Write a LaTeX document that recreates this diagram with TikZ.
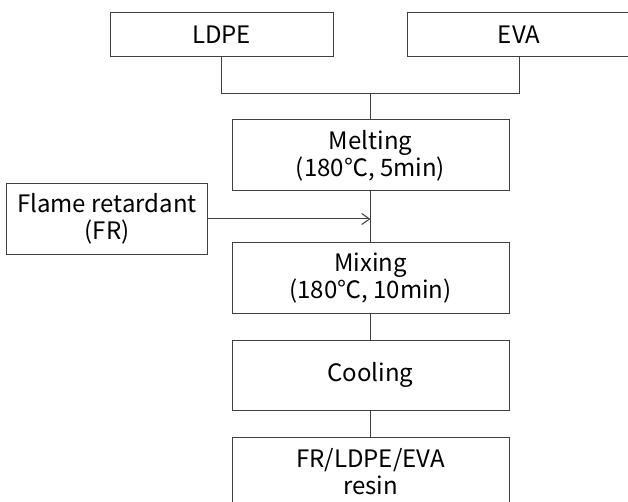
\documentclass[tikz,border=0pt]{standalone}
\usepackage{fontspec}
\setmainfont{Noto Sans CJK KR}
\usetikzlibrary{arrows.meta}
\begin{document}
\begin{tikzpicture}[x=1bp,y=-1bp,
  box/.style={draw=black!75,line width=1bp,inner sep=0pt,align=center,
    font=\fontsize{24bp}{27bp}\selectfont,text=black},
  link/.style={draw=black!75,line width=1bp}]
\clip (0,0) rectangle (628,502);
\node[box,minimum width=223bp,minimum height=44bp] (ldpe) at (221.5,35) {LDPE};
\node[box,minimum width=224bp,minimum height=44bp] (eva) at (519,35) {EVA};
\node[box,minimum width=277bp,minimum height=71bp] (melt) at (370.5,155.5) {Melting\\(180℃, 5min)};
\node[box,minimum width=200bp,minimum height=70bp] (fr) at (107,219) {Flame retardant\\(FR)};
\node[box,minimum width=277bp,minimum height=70bp] (mix) at (370.5,278) {Mixing\\(180℃, 10min)};
\node[box,minimum width=277bp,minimum height=70bp] (cool) at (370.5,375) {Cooling};
\node[box,minimum width=277bp,minimum height=70bp] (res) at (370.5,472) {FR/LDPE/EVA\\resin};
\coordinate (j) at (370.5,94);
\draw[link] (ldpe.south) |- (j);
\draw[link] (eva.south) |- (j);
\draw[link] (j) -- (melt.north);
\draw[link] (melt.south) -- (mix.north);
\draw[link,-{Straight Barb[length=8bp,width=11bp]}] (fr.east) -- (fr.east -| melt.south);
\draw[link] (mix.south) -- (cool.north);
\draw[link] (cool.south) -- (res.north);
\end{tikzpicture}
\end{document}
